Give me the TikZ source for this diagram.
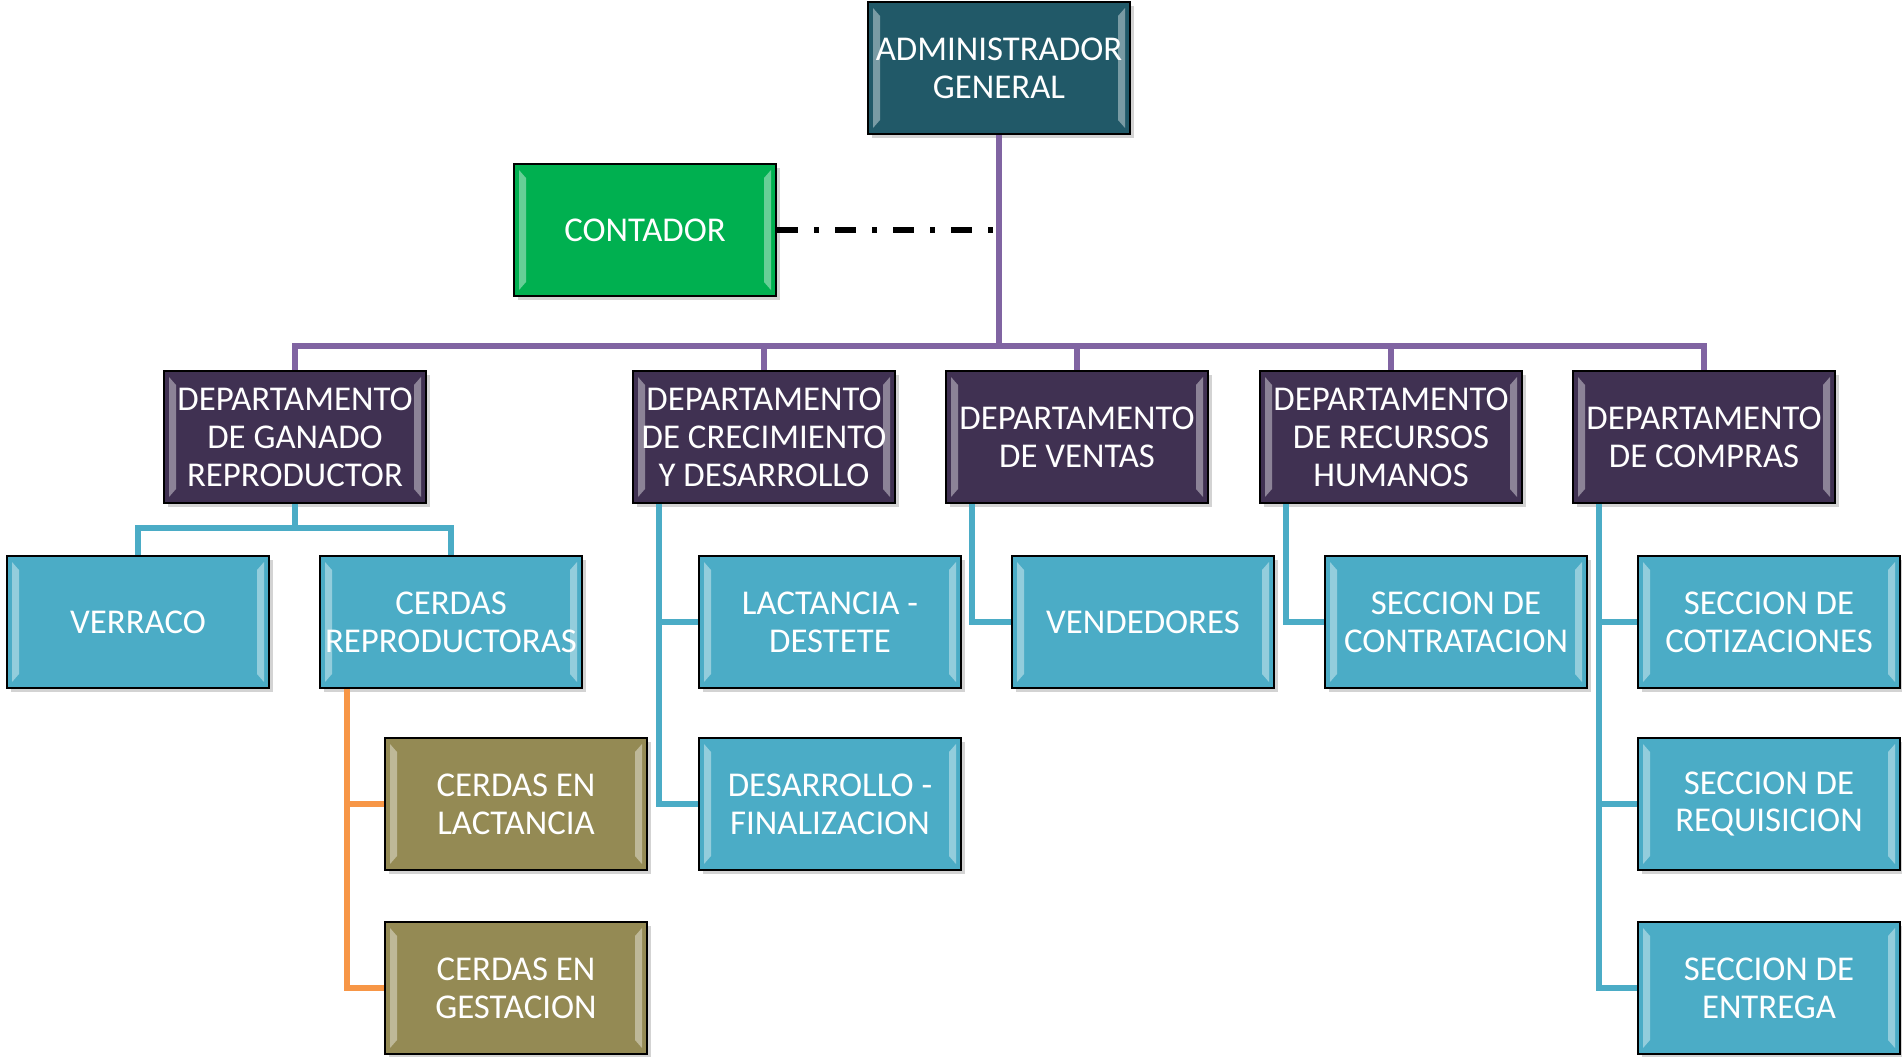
\documentclass[tikz,border=0pt]{standalone}
\usepackage{fontspec}
\setmainfont{Carlito}
\usetikzlibrary{shadows,calc}

\definecolor{admcol}{RGB}{33,89,104}
\definecolor{contcol}{RGB}{0,176,80}
\definecolor{depcol}{RGB}{64,49,82}
\definecolor{seccol}{RGB}{75,172,198}
\definecolor{olivecol}{RGB}{148,138,84}
\definecolor{purpcol}{RGB}{128,100,162}
\definecolor{orancol}{RGB}{247,150,70}

\tikzset{
  box/.style={draw=black, line width=0.6pt, text=white, align=center,
    minimum width=2.62cm, minimum height=1.32cm, inner sep=0pt,
    font=\fontsize{9.9}{10.8}\selectfont,
    drop shadow={opacity=0.35, shadow xshift=0.4mm, shadow yshift=-0.4mm},
    path picture={
      \fill[white, opacity=0.4]
        ($(path picture bounding box.north west)+(0.5mm,-0.6mm)$) -- ++(0.7mm,-0.8mm)
        -- ($(path picture bounding box.south west)+(1.2mm,1.4mm)$) -- ++(-0.7mm,-0.8mm) -- cycle;
      \fill[white, opacity=0.4]
        ($(path picture bounding box.north east)+(-0.5mm,-0.6mm)$) -- ++(-0.7mm,-0.8mm)
        -- ($(path picture bounding box.south east)+(-1.2mm,1.4mm)$) -- ++(0.7mm,-0.8mm) -- cycle;
    }},
  admbox/.style={box, fill=admcol},
  contbox/.style={box, fill=contcol},
  depbox/.style={box, fill=depcol},
  secbox/.style={box, fill=seccol},
  olivebox/.style={box, fill=olivecol},
  purpline/.style={draw=purpcol, line width=1.6pt},
  tealline/.style={draw=seccol, line width=1.5pt},
  oranline/.style={draw=orancol, line width=1.5pt},
  dotline/.style={draw=black, line width=1.9pt, dash pattern=on 2.1mm off 1.6mm on 0.5mm off 1.6mm}
}

\begin{document}
\begin{tikzpicture}
\useasboundingbox (0,0) rectangle (19.02,-10.56);

\node[admbox] (adm) at (9.99, -0.68) {ADMINISTRADOR\\GENERAL};
\node[contbox] (cont) at (6.45, -2.30) {CONTADOR};

\node[depbox] (d1) at (2.95, -4.37) {DEPARTAMENTO\\DE GANADO\\REPRODUCTOR};
\node[depbox] (d2) at (7.64, -4.37) {DEPARTAMENTO\\DE CRECIMIENTO\\Y DESARROLLO};
\node[depbox] (d3) at (10.77, -4.37) {DEPARTAMENTO\\DE VENTAS};
\node[depbox] (d4) at (13.91, -4.37) {DEPARTAMENTO\\DE RECURSOS\\HUMANOS};
\node[depbox] (d5) at (17.04, -4.37) {DEPARTAMENTO\\DE COMPRAS};

\node[secbox] (verr) at (1.38, -6.22) {VERRACO};
\node[secbox] (cerd) at (4.51, -6.22) {CERDAS\\REPRODUCTORAS};
\node[secbox] (lact) at (8.30, -6.22) {LACTANCIA -\\DESTETE};
\node[secbox] (vend) at (11.43, -6.22) {VENDEDORES};
\node[secbox] (contr) at (14.56, -6.22) {SECCION DE\\CONTRATACION};
\node[secbox] (coti) at (17.69, -6.22) {SECCION DE\\COTIZACIONES};

\node[olivebox] (clac) at (5.16, -8.04) {CERDAS EN\\LACTANCIA};
\node[secbox] (desa) at (8.30, -8.04) {DESARROLLO -\\FINALIZACION};
\node[secbox] (requ) at (17.69, -8.04) {SECCION DE\\REQUISICION};

\node[olivebox] (cges) at (5.16, -9.88) {CERDAS EN\\GESTACION};
\node[secbox] (entr) at (17.69, -9.88) {SECCION DE\\ENTREGA};

\coordinate (bus) at (0, -3.46);
\coordinate (t1) at (0, -5.28);

\draw[purpline] (adm.south) -- (adm.south |- bus);
\draw[purpline] (d1.north) -- (d1.north |- bus) -- (d5.north |- bus) -- (d5.north);
\foreach \d in {d2, d3, d4}
  \draw[purpline] (\d.north) -- (\d.north |- bus);

\draw[dotline] (cont.east) -- (cont.east -| adm.south);

\draw[tealline] (d1.south) -- (d1.south |- t1);
\draw[tealline] (verr.north) -- (verr.north |- t1) -- (cerd.north |- t1) -- (cerd.north);

\draw[tealline] ([xshift=2.7mm]d2.south west) |- (lact.west);
\draw[tealline] ([xshift=2.7mm]d2.south west) |- (desa.west);
\draw[tealline] ([xshift=2.7mm]d3.south west) |- (vend.west);
\draw[tealline] ([xshift=2.7mm]d4.south west) |- (contr.west);
\foreach \s in {coti, requ, entr}
  \draw[tealline] ([xshift=2.7mm]d5.south west) |- (\s.west);

\draw[oranline] ([xshift=2.8mm]cerd.south west) |- (clac.west);
\draw[oranline] ([xshift=2.8mm]cerd.south west) |- (cges.west);

\end{tikzpicture}
\end{document}
